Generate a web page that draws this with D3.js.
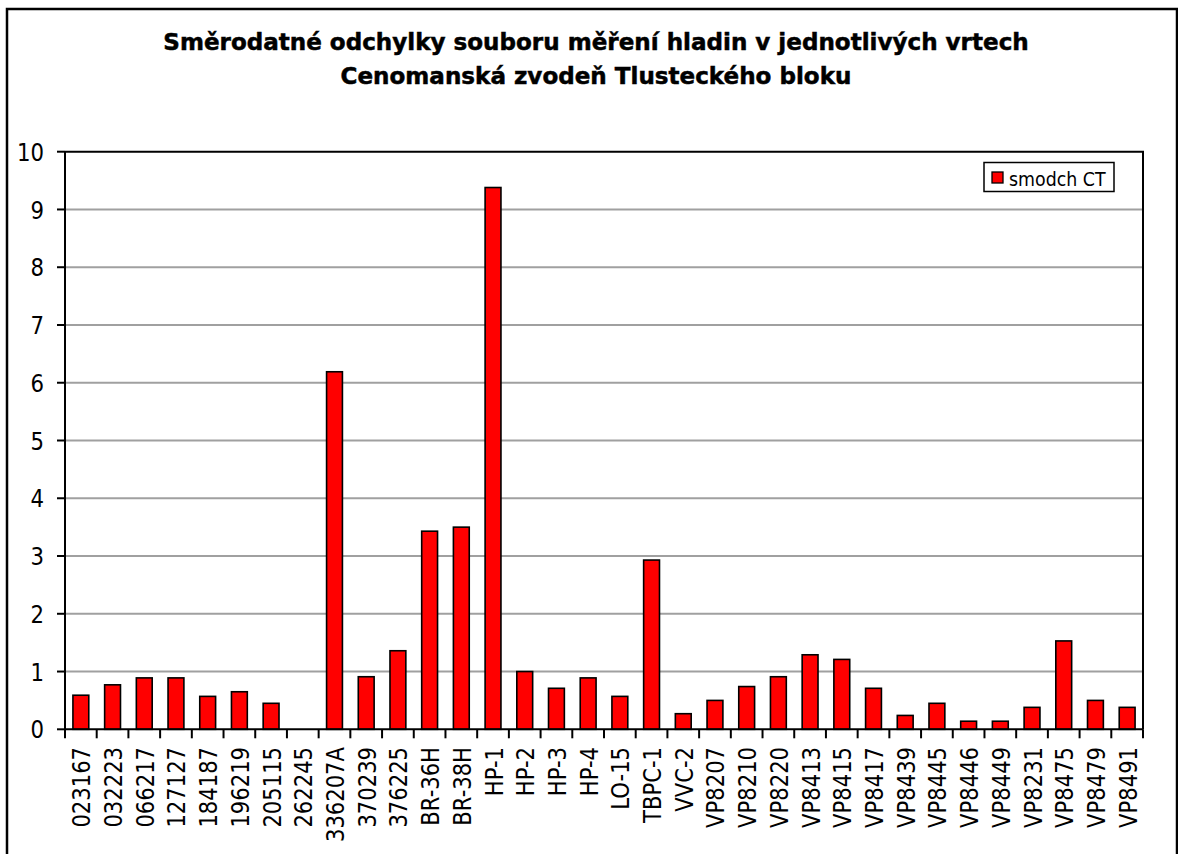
<!DOCTYPE html>
<html><head><meta charset="utf-8">
<script src="https://cdn.jsdelivr.net/npm/d3@7"></script>
<style>body{margin:0;background:#fff}svg{display:block}</style>
</head><body>
<svg id="c" width="1178" height="854"></svg>
<script>
const titleLines = ["Směrodatné odchylky souboru měření hladin v jednotlivých vrtech", "Cenomanská zvodeň Tlusteckého bloku"];
const seriesName = "smodch CT";
const categories = ["023167","032223","066217","127127","184187","196219","205115","262245","336207A","370239","376225","BR-36H","BR-38H","HP-1","HP-2","HP-3","HP-4","LO-15","TBPC-1","VVC-2","VP8207","VP8210","VP8220","VP8413","VP8415","VP8417","VP8439","VP8445","VP8446","VP8449","VP8231","VP8475","VP8479","VP8491"];
const values = [0.59,0.77,0.89,0.89,0.57,0.65,0.45,0,6.19,0.91,1.36,3.43,3.50,9.38,1.00,0.71,0.89,0.57,2.93,0.27,0.50,0.74,0.91,1.29,1.21,0.71,0.24,0.45,0.14,0.14,0.38,1.53,0.50,0.38];
const yTicks = [0,1,2,3,4,5,6,7,8,9,10];

const svg = d3.select("#c");
const FONT = "'DejaVu Sans', Verdana, sans-serif";
const L = 65, R = 1143, T = 151.7, B = 729.3;

// outer border
svg.append("rect").attr("x",7).attr("y",9).attr("width",1170).attr("height",900)
  .attr("fill","#fff").attr("stroke","#000").attr("stroke-width",2.5);

// title
const tg = svg.append("g");
const mk = s => tg.append("text").attr("font-family",FONT).attr("font-weight","bold").attr("font-size",23)
  .attr("text-anchor","middle").attr("stroke","#000").attr("stroke-width",0.5).text(s);
const t1 = mk(titleLines[0]);
const t2 = mk(titleLines[1]);
const k = 866 / t1.node().getComputedTextLength();
t1.attr("transform",`translate(596,49.5) scale(${k},1)`);
t2.attr("transform",`translate(596,83.5) scale(${k},1)`);

const x = d3.scaleBand().domain(categories).range([L,R]).paddingInner(0.5).paddingOuter(0.25);
const y = d3.scaleLinear().domain([0,10]).range([B,T]);
const step = x.step();

// gridlines
svg.append("g").selectAll("line").data(yTicks.filter(d=>d>0 && d<10)).join("line")
  .attr("x1",L).attr("x2",R).attr("y1",d=>y(d)).attr("y2",d=>y(d))
  .attr("stroke","#a0a0a0").attr("stroke-width",2);

// bars
svg.append("g").selectAll("rect").data(categories.map((c,i)=>({c,v:values[i]})).filter(d=>d.v>0)).join("rect")
  .attr("x",d=>x(d.c)).attr("width",x.bandwidth())
  .attr("y",d=>y(d.v)).attr("height",d=>y(0)-y(d.v))
  .attr("fill","#ff0000").attr("stroke","#000").attr("stroke-width",1.6);

// plot frame top & right
svg.append("path").attr("d",`M${L},${T}H${R}V${B}`).attr("fill","none").attr("stroke","#000").attr("stroke-width",2);

// y axis
svg.append("line").attr("x1",L).attr("x2",L).attr("y1",T).attr("y2",B).attr("stroke","#000").attr("stroke-width",2);
const yg = svg.append("g");
yg.selectAll("line").data(yTicks).join("line")
  .attr("x1",L-8).attr("x2",L).attr("y1",d=>y(d)).attr("y2",d=>y(d)).attr("stroke","#000").attr("stroke-width",2);
yg.selectAll("text").data(yTicks).join("text")
  .attr("font-family",FONT).attr("font-size",25).attr("text-anchor","end").attr("dominant-baseline","central")
  .attr("transform",d=>`translate(44,${y(d)}) scale(0.85,1)`).text(d=>d);

// x axis
svg.append("line").attr("x1",L).attr("x2",R).attr("y1",B).attr("y2",B).attr("stroke","#000").attr("stroke-width",2);
const bounds = categories.map(c=>x(c)-(step-x.bandwidth())/2).concat([R]);
svg.append("g").selectAll("line").data(bounds).join("line")
  .attr("x1",d=>d).attr("x2",d=>d).attr("y1",B).attr("y2",B+9).attr("stroke","#000").attr("stroke-width",2);
svg.append("g").selectAll("text").data(categories).join("text")
  .attr("font-family",FONT).attr("font-size",24).attr("text-anchor","end").attr("dominant-baseline","central")
  .attr("transform",c=>`translate(${x(c)+x.bandwidth()/2+1},747) rotate(-90) scale(0.88,1)`).text(c=>c);

// legend
const lg = svg.append("g");
lg.append("rect").attr("x",984).attr("y",162.5).attr("width",130).attr("height",29)
  .attr("fill","#fff").attr("stroke","#000").attr("stroke-width",1.5);
lg.append("rect").attr("x",992).attr("y",172).attr("width",11).attr("height",11)
  .attr("fill","#ff0000").attr("stroke","#000").attr("stroke-width",1.3);
lg.append("text").attr("font-family",FONT).attr("font-size",20)
  .attr("transform","translate(1009,186) scale(0.87,1)").text(seriesName);
</script>
</body></html>
